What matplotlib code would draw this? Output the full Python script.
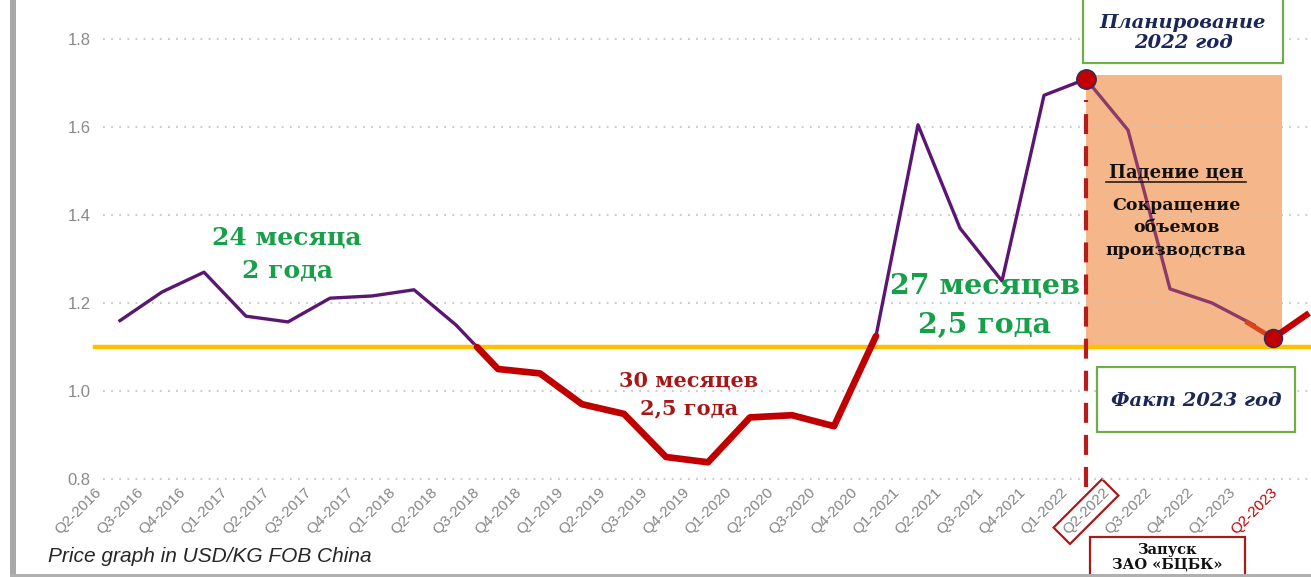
import matplotlib
matplotlib.use('Agg')
import matplotlib.pyplot as plt
import numpy as np
from matplotlib.transforms import ScaledTranslation, blended_transform_factory
from matplotlib.patches import Rectangle
from matplotlib.lines import Line2D

# ---------------- data ----------------
quarters = ['Q2-2016', 'Q3-2016', 'Q4-2016', 'Q1-2017', 'Q2-2017', 'Q3-2017', 'Q4-2017',
            'Q1-2018', 'Q2-2018', 'Q3-2018', 'Q4-2018', 'Q1-2019', 'Q2-2019', 'Q3-2019',
            'Q4-2019', 'Q1-2020', 'Q2-2020', 'Q3-2020', 'Q4-2020', 'Q1-2021', 'Q2-2021',
            'Q3-2021', 'Q4-2021', 'Q1-2022', 'Q2-2022', 'Q3-2022', 'Q4-2022', 'Q1-2023',
            'Q2-2023']
price = [1.16, 1.225, 1.27, 1.17, 1.157, 1.211, 1.216, 1.23, 1.15, 1.05, 1.04, 0.97,
         0.948, 0.85, 0.838, 0.94, 0.945, 0.92, 1.125, 1.605, 1.37, 1.25, 1.672, 1.709,
         1.593, 1.232, 1.20, 1.15]
threshold = 1.1
peak_idx = 23            # Q1-2022 peak (planning point)
low_start, low_end = 8, 18   # low-price period (below threshold)
fact_pos = [26.85, 27.45, 28.25]   # hand-drawn 2023 fact segment
fact_val = [1.155, 1.12, 1.173]
yticks = [0.8, 1.0, 1.2, 1.4, 1.6, 1.8]
ytick_labels = ['0.8', '1.0', '1.2', '1.4', '1.6', '1.8']
label_planning = 'Планирование\n2022 год'
label_fact = 'Факт 2023 год'
label_launch = 'Запуск\nЗАО «БЦБК»'

# ---------------- figure ----------------
W, H = 1311, 577
fig = plt.figure(figsize=(W / 100, H / 100), dpi=100)
fig.patch.set_facecolor('white')

def fx(px):
    return px / W

def fy(py):
    return 1 - py / H

ax_left, ax_bottom_px = 103, 485
ax = fig.add_axes([fx(ax_left), fy(ax_bottom_px), (W - ax_left) / W, ax_bottom_px / H])
ax.set_facecolor('none')

# pixel->data helpers (chart spacing 42 px per quarter, 440 px per unit)
x0_px, dx_px = 120, 42
ax.set_xlim((ax_left - x0_px) / dx_px, (W - x0_px) / dx_px)
ax.set_ylim(1.8 - (ax_bottom_px - 39) / 440, 1.8 + 39 / 440)

for s in ax.spines.values():
    s.set_visible(False)

ax.set_yticks(yticks)
ax.set_yticklabels(ytick_labels)
ax.yaxis.grid(True, linestyle=(0, (1, 3.5)), color='#C6C6C6', lw=1.3)
ax.set_axisbelow(True)
ax.tick_params(axis='y', length=0, pad=9, labelsize=12, labelcolor='#8A8A8A')
for t in ax.get_yticklabels():
    t.set_family('Liberation Sans')

xi = np.arange(len(quarters))
ax.set_xticks(xi)
ax.set_xticklabels(quarters)
ax.tick_params(axis='x', length=0, pad=4, labelsize=11, labelcolor='#858585')
offset = ScaledTranslation(-21 / 100, 0, fig.dpi_scale_trans)
for t in ax.get_xticklabels():
    t.set_family('Liberation Sans')
    t.set_rotation(45)
    t.set_ha('right')
    t.set_va('center')
    t.set_rotation_mode('anchor')
    t.set_transform(t.get_transform() + offset)
    if t.get_text() == 'Q2-2023':
        t.set_color('#C00000')
    if t.get_text() == 'Q2-2022':
        t.set_bbox(dict(boxstyle='square,pad=0.3', fc='none', ec='#A51C1C', lw=1.6))

# shaded "price fall" area
shade_top = 1.8 - (75 - 39) / 440
shade_right = (1282 - x0_px) / dx_px
ax.add_patch(Rectangle((peak_idx, threshold), shade_right - peak_idx, shade_top - threshold,
                       fc='#F5B68A', ec='none', zorder=0.2))

# price line
px_arr = np.array(price)
ax.plot(xi[:peak_idx + 1], px_arr[:peak_idx + 1], color='#5A1670', lw=2.4, zorder=2,
        solid_joinstyle='round')
ax.plot(xi[peak_idx:len(price)], px_arr[peak_idx:], color='#8E3A67', lw=2.4, zorder=2,
        solid_joinstyle='round')

# threshold line
trans = blended_transform_factory(ax.transAxes, ax.transData)
ax.plot([(95 - ax_left) / (W - ax_left), 1.0], [threshold, threshold], transform=trans,
        color='#FFC000', lw=3.2, clip_on=False, zorder=3)

# low-price period overlay (red)
a, b = price[low_start], price[low_start + 1]
cross = low_start + (a - threshold) / (a - b)
rx = [cross] + list(xi[low_start + 1:low_end + 1])
ry = [threshold] + price[low_start + 1:low_end + 1]
ax.plot(rx, ry, color='#C00000', lw=4.8, zorder=4, solid_joinstyle='round',
        solid_capstyle='round')

# 2023 fact segment
ax.plot(fact_pos[:2], fact_val[:2], color='#D9441C', lw=3.5, zorder=4)
ax.plot(fact_pos[1:], fact_val[1:], color='#C00000', lw=4.5, zorder=4, clip_on=False)

# vertical dashed line at peak
ax.plot([peak_idx, peak_idx], [0.782, 1.661], color='#B51D1D', lw=3, dashes=(4.8, 2.9),
        clip_on=False, zorder=3)

# red markers
ax.plot([peak_idx], [price[peak_idx]], 'o', ms=14, mfc='#C00000', mec='#23306A', mew=1,
        zorder=6)
ax.plot([fact_pos[1]], [fact_val[1]], 'o', ms=13, mfc='#C00000', mec='#23306A', mew=1,
        zorder=6, clip_on=False)

# ---------------- annotations ----------------
def dxp(px):
    return (px - x0_px) / dx_px

def dyp(py):
    return 1.8 - (py - 39) / 440

green = '#17A04A'
dred = '#A81717'
serif = ['DejaVu Serif']
ax.text(dxp(287), dyp(238), '24 месяца', ha='center', va='center', color=green,
        fontsize=18, fontweight='bold', family=serif, zorder=7)
ax.text(dxp(287), dyp(271), '2 года', ha='center', va='center', color=green,
        fontsize=18, fontweight='bold', family=serif, zorder=7)
ax.text(dxp(689), dyp(381), '30 месяцев', ha='center', va='center', color=dred,
        fontsize=15, fontweight='bold', family=serif, zorder=7)
ax.text(dxp(689), dyp(408), '2,5 года', ha='center', va='center', color=dred,
        fontsize=15, fontweight='bold', family=serif, zorder=7)
ax.text(dxp(985), dyp(287), '27 месяцев', ha='center', va='center', color=green,
        fontsize=20.5, fontweight='bold', family=serif, zorder=7)
ax.text(dxp(985), dyp(325), '2,5 года', ha='center', va='center', color=green,
        fontsize=20.5, fontweight='bold', family=serif, zorder=7)

ax.text(dxp(1176), dyp(172), 'Падение цен', ha='center', va='center', color='#111111',
        fontsize=13, fontweight='bold', family=serif, zorder=7)
fig.add_artist(Line2D([fx(1106), fx(1246)], [fy(182), fy(182)], color='#111111', lw=1.1))
for py, s in [(205, 'Сокращение'), (228, 'объемов'), (251, 'производства')]:
    ax.text(dxp(1176), dyp(py), s, ha='center', va='center', color='#111111',
            fontsize=12.5, fontweight='bold', family=serif, zorder=7)

# boxes
navy = '#1B2756'
fig.add_artist(Rectangle((fx(1083), fy(63)), (1283 - 1083) / W, 66 / H,
                         transform=fig.transFigure, fc='white', ec='#70AD47', lw=1.6, zorder=5))
fig.text(fx(1183), fy(33), label_planning, ha='center', va='center', color=navy,
         fontsize=14, fontweight='bold', fontstyle='italic', family=serif,
         linespacing=1.2, zorder=6)

fig.add_artist(Rectangle((fx(1097), fy(432)), (1295 - 1097) / W, 65 / H,
                         transform=fig.transFigure, fc='white', ec='#70AD47', lw=1.6, zorder=5))
fig.text(fx(1196), fy(401), label_fact, ha='center', va='center', color=navy,
         fontsize=14, fontweight='bold', fontstyle='italic', family=serif, zorder=6)

fig.add_artist(Rectangle((fx(1090), fy(582)), (1245 - 1090) / W, 45 / H,
                         transform=fig.transFigure, fc='white', ec='#A51C1C', lw=1.6, zorder=5))
fig.text(fx(1167), fy(557), label_launch, ha='center', va='center', color='#111111',
         fontsize=10.5, fontweight='bold', family=serif, linespacing=1.05, zorder=6)

# caption
fig.text(fx(48), fy(562), 'Price graph in USD/KG FOB China', ha='left', va='baseline',
         color='#262626', fontsize=15, fontstyle='italic', family='Liberation Sans')

# slide frame shadow
fig.add_artist(Rectangle((fx(10), 0), 6 / W, 1, transform=fig.transFigure,
                         fc='#A8A8A8', ec='none', zorder=8))
fig.add_artist(Rectangle((fx(10), 0), 1, 3 / H, transform=fig.transFigure,
                         fc='#B0B0B0', ec='none', zorder=8))

fig.savefig('out.png', dpi=100)
